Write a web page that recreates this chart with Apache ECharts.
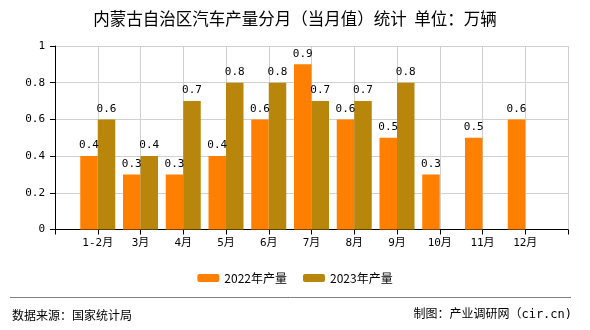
<!DOCTYPE html>
<html><head><meta charset="utf-8">
<script src="https://cdn.jsdelivr.net/npm/echarts@6/dist/echarts.min.js"></script>
<style>html,body{margin:0;padding:0;background:#fff}#c{width:590px;height:330px}</style>
</head><body><div id="c"></div>
<script>
var categories = ['1-2月','3月','4月','5月','6月','7月','8月','9月','10月','11月','12月'];
var seriesNames = ['2022年产量','2023年产量'];
var values2022 = [0.4,0.3,0.3,0.4,0.6,0.9,0.6,0.5,0.3,0.5,0.6];
var values2023 = [0.6,0.4,0.7,0.8,0.8,0.7,0.7,0.8,null,null,null];
var yTicks = [0,0.2,0.4,0.6,0.8,1];
var titleText = '内蒙古自治区汽车产量分月（当月值）统计  单位：万辆';
var sourceText = '数据来源：国家统计局';
var creditText = '制图：产业调研网（cir.cn)';

function toPairs(arr){
  var out = [];
  arr.forEach(function(v,i){ if(v!==null) out.push([i+1, v]); });
  return out;
}
var mono = "'DejaVu Sans Mono','Noto Sans CJK SC',monospace";
var chart = echarts.init(document.getElementById('c'));
chart.setOption({
  animation:false,
  backgroundColor:'#fff',
  title:{text:titleText,left:'center',top:5,textStyle:{fontSize:16.5,fontWeight:'normal',color:'#000',fontFamily:"'Noto Sans CJK SC'"}},
  legend:{data:seriesNames,left:'center',top:267,itemWidth:22,itemHeight:8,itemGap:16,
    textStyle:{fontSize:12,color:'#000',fontFamily:"'Noto Sans CJK SC'"}},
  grid:{left:55,right:22,top:46,bottom:100.5},
  xAxis:{type:'value',min:0,max:categories.length+1,interval:1,
    axisLine:{lineStyle:{color:'#000'}},
    axisTick:{show:true,length:5,lineStyle:{color:'#000'}},
    axisLabel:{margin:8,color:'#000',fontSize:11,fontFamily:mono,
      formatter:function(v){return categories[v-1]||'';}},
    splitLine:{show:true,lineStyle:{color:'#d0d0d0'}}},
  yAxis:{type:'value',min:yTicks[0],max:yTicks[yTicks.length-1],interval:0.2,
    axisLine:{show:true,lineStyle:{color:'#000'}},
    axisTick:{show:true,length:5,lineStyle:{color:'#000'}},
    axisLabel:{margin:10,color:'#000',fontSize:11,fontFamily:mono},
    splitLine:{show:true,lineStyle:{color:'#d0d0d0'}}},
  series:[
    {name:seriesNames[0],type:'bar',data:toPairs(values2022),barWidth:17.5,barGap:'0%',
     itemStyle:{color:'#FF8000'},
     label:{show:true,position:'top',distance:5,color:'#000',fontSize:11,fontFamily:mono}},
    {name:seriesNames[1],type:'bar',data:toPairs(values2023),barWidth:17.5,barGap:'0%',
     itemStyle:{color:'#B8860B'},
     label:{show:true,position:'top',distance:5,color:'#000',fontSize:11,fontFamily:mono}}
  ],
  graphic:[
    {type:'line',shape:{x1:10,y1:297.5,x2:571,y2:297.5},style:{stroke:'#808080',lineWidth:1}},
    {type:'text',left:12,top:309,style:{text:sourceText,fontSize:12,fill:'#000',fontFamily:"'Noto Sans CJK SC'"}},
    {type:'text',right:18,top:309,style:{text:creditText,fontSize:12,fill:'#000',fontFamily:mono}}
  ]
});
</script></body></html>
